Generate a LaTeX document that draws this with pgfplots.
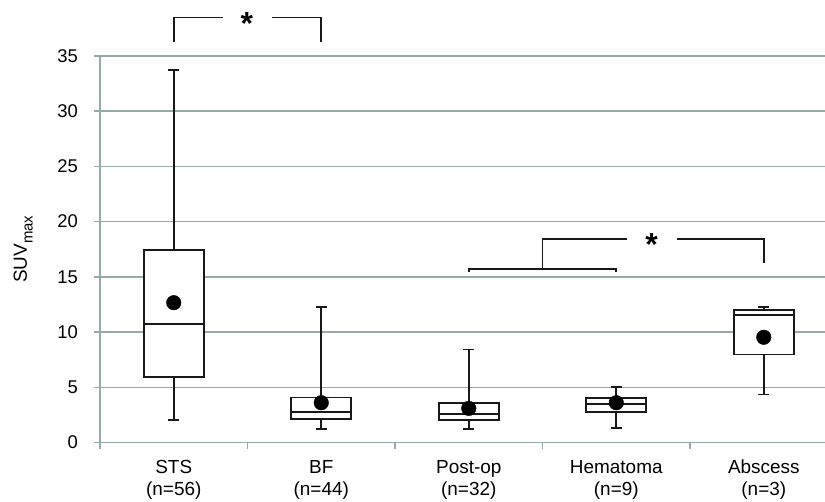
\documentclass[border=0pt]{standalone}
\usepackage{fontspec}
\setmainfont{Liberation Sans}
\usepackage{pgfplots}
\pgfplotsset{compat=1.18}
\usepgfplotslibrary{statistics}
\definecolor{gridc}{RGB}{150,170,170}
\definecolor{boxc}{RGB}{25,25,25}
\begin{document}
\begin{tikzpicture}
\begin{axis}[
  at={(0,0)}, anchor=south west,
  scale only axis, width=725bp, height=386.5bp,
  xmin=-0.5, xmax=4.415, ymin=0, ymax=35,
  clip=false,
  boxplot/draw direction=y,
  axis lines*=left,
  axis line style={gridc, line width=1.5bp},
  ytick={0,5,...,35},
  ymajorgrids, grid style={gridc, line width=1.5bp},
  xtick={-0.5,0.5,1.5,2.5,3.5}, xticklabels={},
  extra x ticks={0,1,2,3,4},
  extra x tick labels={\strut STS\\(n=56),\strut BF\\(n=44),\strut Post-op\\(n=32),\strut Hematoma\\(n=9),\strut Abscess\\(n=3)},
  extra x tick style={major tick length=0pt, tick style={draw=none},
     xticklabel style={align=center, anchor=north, inner sep=0pt, yshift=-16bp, font=\fontsize{19}{21.5}\selectfont}},
  tick align=outside, major tick length=6bp,
  tick style={gridc, line width=1.5bp},
  tick label style={font=\fontsize{18.5}{21.5}\selectfont},
  yticklabel style={inner sep=0pt, anchor=east, xshift=-16bp},
  /pgf/number format/assume math mode=true,
  ylabel={SUV\raisebox{-0.3em}{\fontsize{15}{15}\selectfont max}},
  ylabel style={at={(axis description cs:-0.106,0.5)}, anchor=center, font=\fontsize{19}{22}\selectfont},
]
\addplot[boxplot prepared={draw position=0, lower whisker=2.03, lower quartile=5.95, median=10.7, upper quartile=17.4, upper whisker=33.7, box extend=0.407, whisker extend=0.075}, draw=boxc, fill=white, line width=1.8bp] coordinates {};
\addplot[boxplot prepared={draw position=1, lower whisker=1.19, lower quartile=2.15, median=2.73, upper quartile=4.08, upper whisker=12.27, box extend=0.407, whisker extend=0.075}, draw=boxc, fill=white, line width=1.8bp] coordinates {};
\addplot[boxplot prepared={draw position=2, lower whisker=1.19, lower quartile=2.03, median=2.57, upper quartile=3.6, upper whisker=8.42, box extend=0.407, whisker extend=0.075}, draw=boxc, fill=white, line width=1.8bp] coordinates {};
\addplot[boxplot prepared={draw position=3, lower whisker=1.28, lower quartile=2.76, median=3.48, upper quartile=4.05, upper whisker=5.04, box extend=0.407, whisker extend=0.075}, draw=boxc, fill=white, line width=1.8bp] coordinates {};
\addplot[boxplot prepared={draw position=4, lower whisker=4.35, lower quartile=7.97, median=11.58, upper quartile=12.03, upper whisker=12.27, box extend=0.407, whisker extend=0.075}, draw=boxc, fill=white, line width=1.8bp] coordinates {};
\addplot[only marks, mark=*, mark size=7.3bp, black] coordinates {(0,12.66) (1,3.6) (2,3.09) (3,3.6) (4,9.53)};
% significance brackets
\draw[boxc, line width=1.6bp] (axis cs:0,36.3) -- (axis cs:0,38.5) -- (axis cs:0.332,38.5);
\draw[boxc, line width=1.6bp] (axis cs:0.667,38.5) -- (axis cs:1,38.5) -- (axis cs:1,36.3);
\node[anchor=base, inner sep=0pt, yshift=-17bp] at (axis cs:0.495,38.5) {\fontsize{32}{32}\selectfont\bfseries *};
\draw[boxc, line width=1.6bp] (axis cs:2,15.45) -- (axis cs:2,15.73) -- (axis cs:3,15.73) -- (axis cs:3,15.45);
\draw[boxc, line width=1.6bp] (axis cs:2.5,15.73) -- (axis cs:2.5,18.45) -- (axis cs:3.073,18.45);
\draw[boxc, line width=1.6bp] (axis cs:3.412,18.45) -- (axis cs:4,18.45) -- (axis cs:4,16.24);
\node[anchor=base, inner sep=0pt, yshift=-17bp] at (axis cs:3.24,18.45) {\fontsize{32}{32}\selectfont\bfseries *};
\end{axis}
\pgfresetboundingbox
\path[use as bounding box] (-100bp,-59.5bp) rectangle (725bp,442.5bp);
\end{tikzpicture}
\end{document}
